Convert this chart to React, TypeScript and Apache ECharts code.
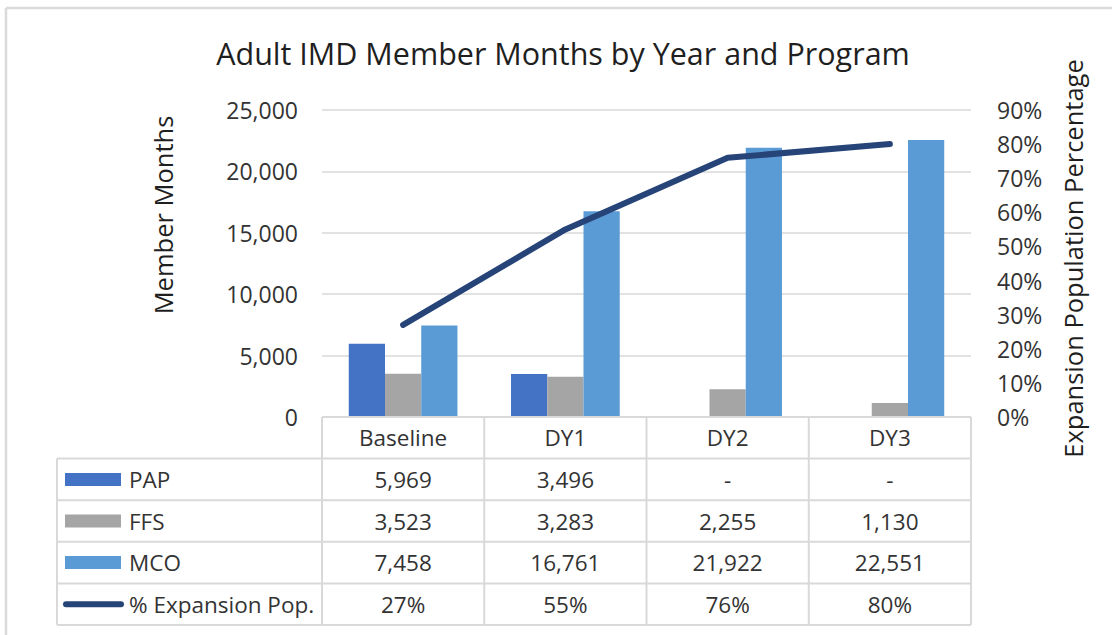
import React, { useEffect, useRef } from 'react';
import * as echarts from 'echarts';

const FONT = "'Open Sans', 'Noto Sans', sans-serif";

const titleText = 'Adult IMD Member Months by Year and Program';
const leftAxisTitle = 'Member Months';
const rightAxisTitle = 'Expansion Population Percentage';

const categories = ['Baseline', 'DY1', 'DY2', 'DY3'];
const papValues: (number | null)[] = [5969, 3496, null, null];
const ffsValues: (number | null)[] = [3523, 3283, 2255, 1130];
const mcoValues: (number | null)[] = [7458, 16761, 21922, 22551];
const expansionPct: (number | null)[] = [27, 55, 76, 80];

const seriesNames = ['PAP', 'FFS', 'MCO', '% Expansion Pop.'];
const seriesColors = ['#4472C4', '#A5A5A5', '#5B9BD5', '#264478'];

const leftAxisMax = 25000;
const leftAxisStep = 5000;
const rightAxisMax = 90;
const rightAxisStep = 10;

const fmtNum = (v: number | null) => (v == null ? '-' : v.toLocaleString('en-US'));
const fmtPct = (v: number | null) => (v == null ? '-' : `${v}%`);

export default function App() {
  const ref = useRef<HTMLDivElement>(null);

  useEffect(() => {
    document.body.style.margin = '0';
    const chart = echarts.init(ref.current!, null, { renderer: 'svg' });

    const gridLeft = 322;
    const gridRight = 971;
    const gridTop = 110;
    const gridBottom = 417;

    chart.setOption({
      animation: false,
      backgroundColor: '#ffffff',
      textStyle: { fontFamily: FONT },
      grid: {
        left: gridLeft,
        right: 1112 - gridRight,
        top: gridTop,
        bottom: 635 - gridBottom,
        containLabel: false,
      },
      legend: { show: false },
      xAxis: {
        type: 'category',
        data: categories,
        axisLine: { show: false },
        axisTick: { show: false },
        axisLabel: {
          fontSize: 22.5,
          fontFamily: FONT,
          color: '#333333',
          margin: 20.5,
          verticalAlign: 'middle',
          interval: 0,
        },
      },
      yAxis: [
        {
          type: 'value',
          min: 0,
          max: leftAxisMax,
          interval: leftAxisStep,
          axisLine: { show: false },
          axisTick: { show: false },
          axisLabel: {
            fontSize: 23,
            fontFamily: FONT,
            color: '#333333',
            margin: 24,
            formatter: (v: number) => v.toLocaleString('en-US'),
          },
          splitLine: { lineStyle: { color: '#D9D9D9', width: 1.6 } },
        },
        {
          type: 'value',
          min: 0,
          max: rightAxisMax,
          interval: rightAxisStep,
          position: 'right',
          axisLine: { show: false },
          axisTick: { show: false },
          axisLabel: {
            fontSize: 23,
            fontFamily: FONT,
            color: '#333333',
            margin: 26,
            formatter: '{value}%',
          },
          splitLine: { show: false },
        },
      ],
      series: [
        {
          name: seriesNames[0],
          type: 'bar',
          data: papValues,
          itemStyle: { color: seriesColors[0] },
          barGap: '0%',
          barCategoryGap: '33%',
        },
        {
          name: seriesNames[1],
          type: 'bar',
          data: ffsValues,
          itemStyle: { color: seriesColors[1] },
          barGap: '0%',
          barCategoryGap: '33%',
        },
        {
          name: seriesNames[2],
          type: 'bar',
          data: mcoValues,
          itemStyle: { color: seriesColors[2] },
          barGap: '0%',
          barCategoryGap: '33%',
        },
        {
          name: seriesNames[3],
          type: 'line',
          yAxisIndex: 1,
          data: expansionPct,
          symbol: 'none',
          z: 5,
          lineStyle: { color: seriesColors[3], width: 6, cap: 'round', join: 'round' },
          itemStyle: { color: seriesColors[3] },
        },
      ],
    });

    const centers = categories.map(
      (c) => chart.convertToPixel({ xAxisIndex: 0 }, c) as number
    );
    const band = centers.length > 1 ? centers[1] - centers[0] : gridRight - gridLeft;
    const bounds = [centers[0] - band / 2, ...centers.map((c) => c + band / 2)];

    const tableLeft = 57;
    const headerTop = gridBottom;
    const rowH = (625 - headerTop) / 5;
    const rowTops = [0, 1, 2, 3, 4, 5].map((i) => headerTop + rowH * i);
    const tableBottom = rowTops[5];
    const lineColor = '#D9D9D9';
    const textColor = '#333333';

    const els: any[] = [];

    // outer chart frame (top & left visible)
    els.push({ type: 'line', shape: { x1: 6, y1: 8, x2: 1112, y2: 8 }, style: { stroke: '#DADADA', lineWidth: 2.5 }, z: 1 });
    els.push({ type: 'line', shape: { x1: 6, y1: 8, x2: 6, y2: 635 }, style: { stroke: '#DADADA', lineWidth: 2.5 }, z: 1 });

    // title
    els.push({
      type: 'text',
      x: 563,
      y: 53,
      style: {
        text: titleText,
        fontSize: 30.5,
        fontFamily: FONT,
        fill: '#1f1f1f',
        align: 'center',
        verticalAlign: 'middle',
        textAlign: 'center',
        textVerticalAlign: 'middle',
      },
      z: 10,
    });

    // axis titles
    els.push({
      type: 'text',
      x: 163,
      y: 215,
      rotation: Math.PI / 2,
      style: {
        text: leftAxisTitle,
        fontSize: 25.5,
        fontFamily: FONT,
        fill: '#1f1f1f',
        align: 'center',
        verticalAlign: 'middle',
        textAlign: 'center',
        textVerticalAlign: 'middle',
      },
      z: 10,
    });
    els.push({
      type: 'text',
      x: 1073,
      y: 258.5,
      rotation: Math.PI / 2,
      style: {
        text: rightAxisTitle,
        fontSize: 25.5,
        fontFamily: FONT,
        fill: '#1f1f1f',
        align: 'center',
        verticalAlign: 'middle',
        textAlign: 'center',
        textVerticalAlign: 'middle',
      },
      z: 10,
    });

    // table horizontal lines
    els.push({ type: 'line', shape: { x1: bounds[0], y1: headerTop, x2: bounds[bounds.length - 1], y2: headerTop }, style: { stroke: lineColor, lineWidth: 2 }, z: 10 });
    for (let i = 1; i <= 5; i++) {
      els.push({ type: 'line', shape: { x1: tableLeft, y1: rowTops[i], x2: bounds[bounds.length - 1], y2: rowTops[i] }, style: { stroke: lineColor, lineWidth: 2 }, z: 10 });
    }
    // table vertical lines
    els.push({ type: 'line', shape: { x1: tableLeft, y1: rowTops[1], x2: tableLeft, y2: tableBottom }, style: { stroke: lineColor, lineWidth: 2 }, z: 10 });
    bounds.forEach((bx) => {
      els.push({ type: 'line', shape: { x1: bx, y1: headerTop, x2: bx, y2: tableBottom }, style: { stroke: lineColor, lineWidth: 2 }, z: 10 });
    });

    // rows
    const rows = [
      { values: papValues.map(fmtNum), kind: 'bar' },
      { values: ffsValues.map(fmtNum), kind: 'bar' },
      { values: mcoValues.map(fmtNum), kind: 'bar' },
      { values: expansionPct.map(fmtPct), kind: 'line' },
    ];
    rows.forEach((row, r) => {
      const cy = (rowTops[r + 1] + rowTops[r + 2]) / 2;
      if (row.kind === 'bar') {
        els.push({ type: 'rect', shape: { x: 65, y: cy - 6.5, width: 56, height: 13 }, style: { fill: seriesColors[r] }, z: 10 });
      } else {
        els.push({ type: 'line', shape: { x1: 66, y1: cy, x2: 121, y2: cy }, style: { stroke: seriesColors[r], lineWidth: 6, lineCap: 'round' }, z: 10 });
      }
      els.push({
        type: 'text',
        x: 129,
        y: cy,
        style: {
          text: seriesNames[r],
          fontSize: 22.5,
          fontFamily: FONT,
          fill: textColor,
          align: 'left',
          verticalAlign: 'middle',
          textAlign: 'left',
          textVerticalAlign: 'middle',
        },
        z: 10,
      });
      row.values.forEach((txt, c) => {
        els.push({
          type: 'text',
          x: centers[c],
          y: cy,
          style: {
            text: txt,
            fontSize: 22.5,
            fontFamily: FONT,
            fill: textColor,
            align: 'center',
            verticalAlign: 'middle',
            textAlign: 'center',
            textVerticalAlign: 'middle',
          },
          z: 10,
        });
      });
    });

    chart.setOption({ graphic: { elements: els } });

    return () => chart.dispose();
  }, []);

  return (
    <div
      ref={ref}
      style={{ position: 'absolute', left: 0, top: 0, width: 1112, height: 635 }}
    />
  );
}
